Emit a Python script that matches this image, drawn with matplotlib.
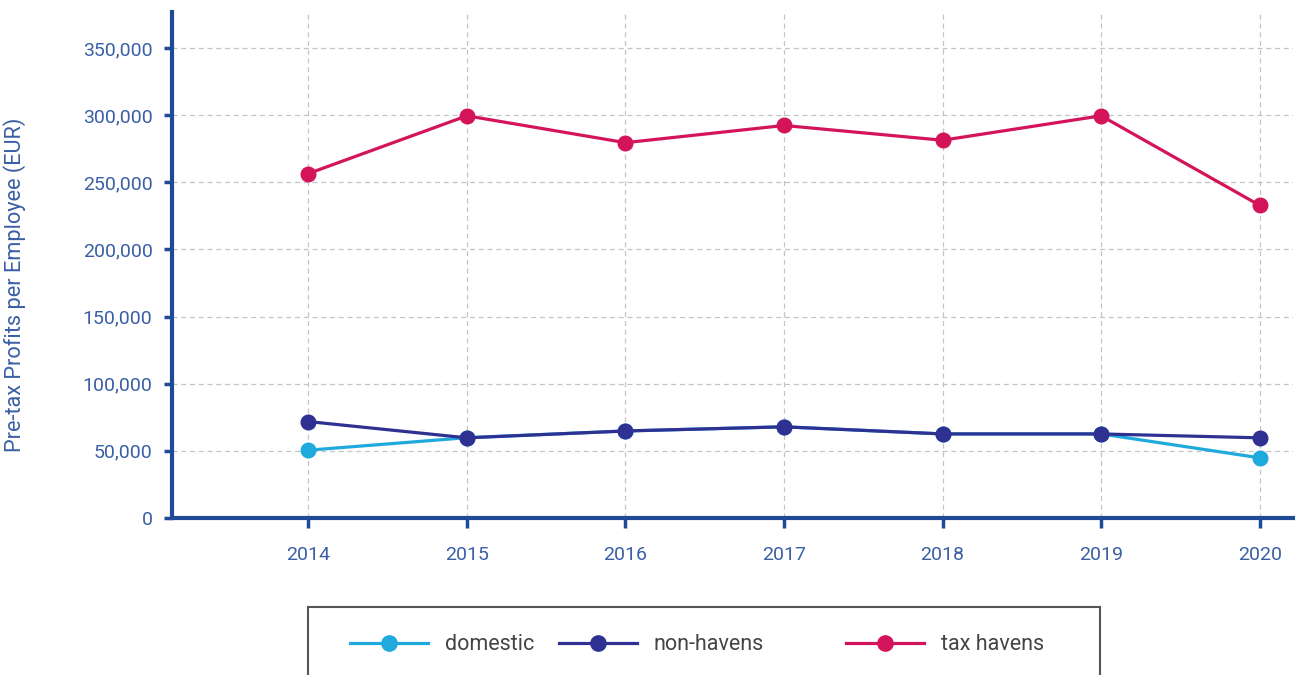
import matplotlib; matplotlib.use("agg")
import matplotlib.pyplot as plt
from matplotlib.lines import Line2D
from matplotlib.patches import Rectangle
from matplotlib.ticker import FuncFormatter

years = [2014, 2015, 2016, 2017, 2018, 2019, 2020]
domestic = [50500, 59800, 64800, 67900, 62600, 62600, 44800]
non_havens = [71800, 59700, 64800, 67900, 62600, 62600, 59700]
tax_havens = [256500, 299500, 279500, 292300, 281300, 299500, 232800]

c_dom, c_non, c_tax = "#1fa9dc", "#2e3192", "#d4145a"
axis_col = "#1f4b96"
tick_col = "#3a5fa5"

plt.rcParams["font.family"] = ["Roboto", "DejaVu Sans"]
fig = plt.figure(figsize=(12.98, 6.75), dpi=100)
ax = fig.add_axes([172/1298, 1-518/675, (1293-172)/1298, (518-12)/675])

for vals, col, lab in [(domestic, c_dom, "domestic"), (non_havens, c_non, "non-havens"),
                       (tax_havens, c_tax, "tax havens")]:
    ax.plot(years, vals, color=col, lw=2.3, marker="o", ms=10.5, label=lab, zorder=3)

ax.set_xlim(2013.14, 2020.21)
ax.set_ylim(0, 376800)
ax.set_xticks(years)
ax.set_yticks(range(0, 350001, 50000))
ax.yaxis.set_major_formatter(FuncFormatter(lambda v, p: f"{int(v):,}"))
ax.grid(True, color="#c4c4c4", ls=(0, (4, 3)), lw=0.9)
for s in ["top", "right"]:
    ax.spines[s].set_visible(False)
for s in ["left", "bottom"]:
    ax.spines[s].set_color(axis_col); ax.spines[s].set_linewidth(3)
ax.tick_params(axis="y", colors=axis_col, labelcolor=tick_col, labelsize=14, length=6, width=2.5, pad=8)
ax.tick_params(axis="x", colors=axis_col, labelcolor=tick_col, labelsize=14, length=7, width=2.5, pad=13)
ax.set_ylabel("Pre-tax Profits per Employee (EUR)", color=tick_col, fontsize=15.7)
ax.yaxis.set_label_coords(-0.13, 0.46)

# legend box, cut off at the bottom like the source
fig.patches.append(Rectangle((308/1298, -0.05), 792/1298, 1-607/675+0.05, transform=fig.transFigure,
                             fill=False, edgecolor="#555555", lw=1.5))
for x0, vals, col, lab in [(350, domestic, c_dom, "domestic"), (559, non_havens, c_non, "non-havens"),
                           (846, tax_havens, c_tax, "tax havens")]:
    h = Line2D([], [], color=col, lw=2.3, marker="o", ms=11)
    fig.legend([h], [lab], loc="center left", bbox_to_anchor=(x0/1298, 1-645/675), frameon=False,
               fontsize=15.5, labelcolor="#444444", handlelength=3.6, handletextpad=0.8,
               borderpad=0, borderaxespad=0)

fig.savefig("out.png", dpi=100)
